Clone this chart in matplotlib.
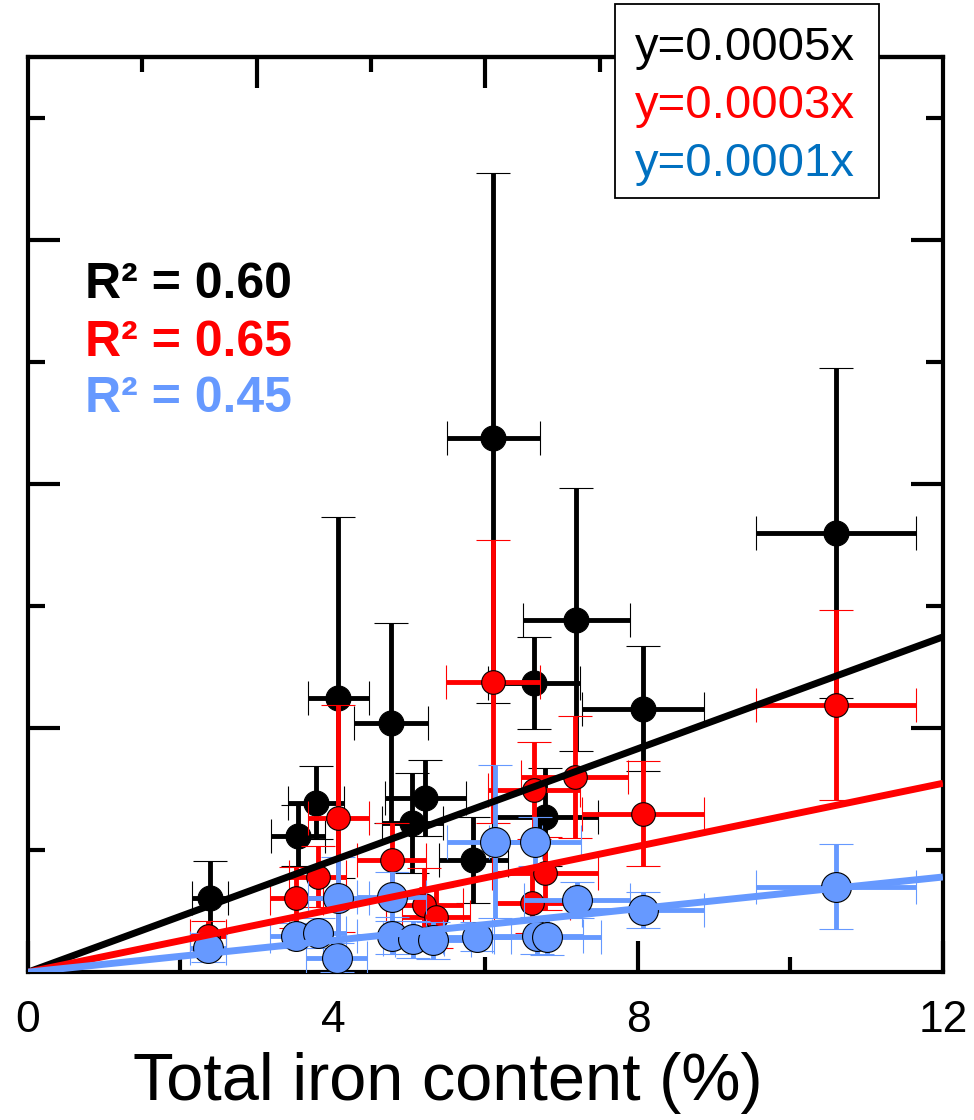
"""Iron content vs. extracted amount: three fractions with error bars."""

import matplotlib

matplotlib.use("Agg")
import matplotlib.pyplot as plt
from matplotlib.patches import Rectangle
from matplotlib.ticker import FixedLocator, NullFormatter

plt.rcParams["font.family"] = ["Liberation Sans", "DejaVu Sans"]

# ---- data (y in axis tick units) ----
black_x = [2.39, 3.54, 3.78, 4.07, 4.76, 5.04, 5.21, 5.84, 6.10, 6.64, 6.78, 7.19, 8.07, 10.60]
black_y = [0.61, 1.12, 1.39, 2.25, 2.04, 1.22, 1.43, 0.92, 4.38, 2.37, 1.27, 2.89, 2.16, 3.60]
black_xerr = [0.24, 0.35, 0.37, 0.40, 0.49, 0.40, 0.53, 0.45, 0.61, 0.60, 0.70, 0.70, 0.80, 1.05]
black_yerr = [0.30, 0.25, 0.30, 1.48, 0.82, 0.41, 0.31, 0.35, 2.17, 0.38, 0.40, 1.08, 0.51, 1.35]

red_x = [2.36, 3.52, 3.80, 4.07, 4.77, 5.20, 5.35, 6.10, 6.64, 6.78, 6.61, 7.17, 8.07, 10.60]
red_y = [0.30, 0.61, 0.78, 1.26, 0.92, 0.55, 0.45, 2.38, 1.49, 0.81, 0.57, 1.60, 1.30, 2.19]
red_xerr = [0.24, 0.35, 0.37, 0.40, 0.45, 0.50, 0.45, 0.62, 0.60, 0.70, 0.50, 0.70, 0.80, 1.05]
red_yerr = [0.12, 0.25, 0.25, 0.93, 0.30, 0.30, 0.25, 1.16, 0.40, 0.30, 0.25, 0.50, 0.43, 0.78]

blue_x = [2.36, 3.52, 3.80, 4.07, 4.05, 4.77, 4.77, 5.05, 5.31, 5.89, 6.12, 6.65, 6.68, 6.81, 7.20, 8.07, 10.60]
blue_y = [0.20, 0.30, 0.32, 0.61, 0.12, 0.62, 0.30, 0.27, 0.26, 0.29, 1.07, 1.07, 0.30, 0.29, 0.59, 0.51, 0.70]
blue_xerr = [0.24, 0.35, 0.37, 0.40, 0.40, 0.45, 0.45, 0.40, 0.50, 0.45, 0.62, 0.60, 0.60, 0.70, 0.70, 0.80, 1.05]
blue_yerr = [0.12, 0.10, 0.12, 0.33, 0.12, 0.20, 0.15, 0.15, 0.15, 0.12, 0.63, 0.20, 0.15, 0.15, 0.15, 0.15, 0.35]

# fitted slopes through origin, in the same plot units
slopes = [0.229, 0.129, 0.065]
fit_x = [0, 12]

r2_labels = ["R\u00b2 = 0.60", "R\u00b2 = 0.65", "R\u00b2 = 0.45"]
eq_labels = ["y=0.0005x", "y=0.0003x", "y=0.0001x"]

BLACK = "#000000"
RED = "#FF0000"
LIGHT_BLUE = "#6699FF"
EQ_BLUE = "#0070C0"

fig = plt.figure(figsize=(9.74, 11.2), dpi=100)
ax = fig.add_axes([0.0287, 0.132, 0.9394, 0.817])

series = [
    (black_x, black_y, black_xerr, black_yerr, BLACK, 18, 2),
    (red_x, red_y, red_xerr, red_yerr, RED, 17, 3),
    (blue_x, blue_y, blue_xerr, blue_yerr, LIGHT_BLUE, 21.5, 4),
]
for x, y, xe, ye, color, ms, z in series:
    ax.errorbar(
        x, y, xerr=xe, yerr=ye,
        fmt="o", color=color, ms=ms, mec=BLACK,
        mew=0.8, elinewidth=3.5, capsize=12, capthick=3.5, zorder=z,
    )

for slope, color, z in zip(slopes, [BLACK, RED, LIGHT_BLUE], [5, 5.1, 5.2]):
    ax.plot(fit_x, [slope * v for v in fit_x], color=color, lw=5, zorder=z,
            solid_capstyle="butt")

ax.set_xlim(0, 12)
ax.set_ylim(0, 7.5)

ax.xaxis.set_major_locator(FixedLocator([0, 4, 8, 12]))
ax.xaxis.set_minor_locator(FixedLocator([2, 6, 10]))
ax.yaxis.set_major_locator(FixedLocator([2, 4, 6]))
ax.yaxis.set_minor_locator(FixedLocator([1, 3, 5, 7]))
ax.yaxis.set_major_formatter(NullFormatter())

ax.tick_params(axis="x", which="both", direction="in", top=False, bottom=True,
               width=3, labelsize=32, pad=20)
ax.tick_params(axis="x", which="major", length=22)
ax.tick_params(axis="x", which="minor", length=11)
ax.tick_params(axis="y", which="both", direction="in", left=True, right=True,
               width=3, labelleft=False)
ax.tick_params(axis="y", which="major", length=23)
ax.tick_params(axis="y", which="minor", length=12)

# top axis carries its own tick spacing
top = ax.secondary_xaxis("top")
top.xaxis.set_major_locator(FixedLocator([3, 6, 9]))
top.xaxis.set_minor_locator(FixedLocator([1.5, 4.5, 7.5, 10.5]))
top.tick_params(which="both", direction="in", width=3, labeltop=False)
top.tick_params(which="major", length=22)
top.tick_params(which="minor", length=11)
top.spines["top"].set_linewidth(3)

for side in ["left", "right", "bottom", "top"]:
    ax.spines[side].set_linewidth(3)

# R^2 annotations
for label, color, base in zip(r2_labels, [BLACK, RED, LIGHT_BLUE], [298, 356, 412]):
    fig.text(85 / 974, 1 - base / 1120, label, color=color, fontsize=36,
             fontweight="bold", ha="left", va="baseline")

# equation box overlapping the top spine
box = Rectangle((615 / 974, 1 - 198 / 1120), 264 / 974, 194 / 1120,
                transform=fig.transFigure, facecolor="white", edgecolor="black",
                linewidth=1.3, zorder=10)
fig.patches.append(box)
for label, color, base in zip(eq_labels, [BLACK, RED, EQ_BLUE], [60, 118, 176]):
    fig.text(635 / 974, 1 - base / 1120, label, color=color, fontsize=34,
             ha="left", va="baseline", zorder=11)

fig.text(448 / 974, 1 - 1100 / 1120, "Total iron content (%)", fontsize=48,
         ha="center", va="baseline")

fig.savefig("out.png", dpi=100)
